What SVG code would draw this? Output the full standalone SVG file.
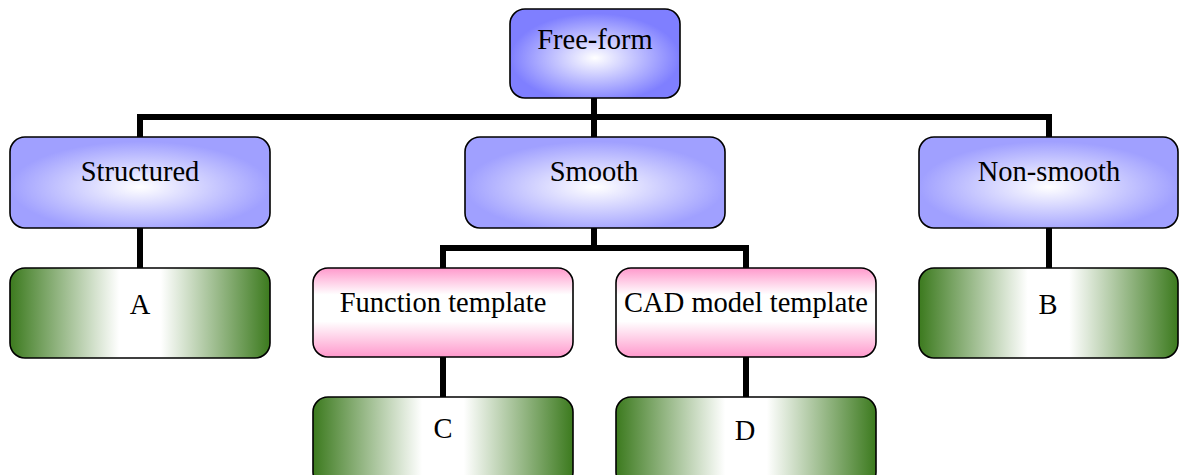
<svg xmlns="http://www.w3.org/2000/svg" width="1179" height="475" viewBox="0 0 1179 475">
<defs>
<radialGradient id="gBlue0" cx="0.5" cy="0.55" r="0.5">
<stop offset="0" stop-color="#ffffff"/>
<stop offset="1" stop-color="#7f7fff"/>
</radialGradient>
<radialGradient id="gBlue" cx="0.5" cy="0.55" r="0.5">
<stop offset="0" stop-color="#ffffff"/>
<stop offset="1" stop-color="#a0a0ff"/>
</radialGradient>
<linearGradient id="gPink" x1="0" y1="0" x2="0" y2="1">
<stop offset="0" stop-color="#ff99cc"/>
<stop offset="0.3" stop-color="#ffffff"/>
<stop offset="0.6" stop-color="#ffffff"/>
<stop offset="1" stop-color="#ff99cc"/>
</linearGradient>
<linearGradient id="gGreen" x1="0" y1="0" x2="1" y2="0">
<stop offset="0" stop-color="#3c7a1e"/>
<stop offset="0.42" stop-color="#ffffff"/>
<stop offset="0.58" stop-color="#ffffff"/>
<stop offset="1" stop-color="#3c7a1e"/>
</linearGradient>
</defs>
<style>
.box{stroke:#000;stroke-width:1.6}
.blue0{fill:url(#gBlue0)}
.blue{fill:url(#gBlue)}
.pink{fill:url(#gPink)}
.green{fill:url(#gGreen)}
.lbl{font-family:"Liberation Serif","Times New Roman",serif;font-size:28.5px;fill:#000;text-anchor:middle}
.con{fill:none;stroke:#000;stroke-width:6}
</style>
<g id="connectors">
<path class="con" d="M594 98 V137"/>
<path class="con" d="M140 137 V117 H1049 V137"/>
<path class="con" d="M140 228 V268"/>
<path class="con" d="M1049 228 V268"/>
<path class="con" d="M594 228 V248"/>
<path class="con" d="M443 268 V248 H746 V268"/>
<path class="con" d="M443 357 V397"/>
<path class="con" d="M746 357 V397"/>
</g>
<g id="freeform"><rect class="box blue0" x="510" y="9" width="170" height="89" rx="15"/><text class="lbl" x="595" y="49">Free-form</text></g>
<g id="structured"><rect class="box blue" x="10" y="137" width="260" height="91" rx="15"/><text class="lbl" x="140" y="181">Structured</text></g>
<g id="smooth"><rect class="box blue" x="465" y="137" width="260" height="91" rx="15"/><text class="lbl" x="594" y="181">Smooth</text></g>
<g id="nonsmooth"><rect class="box blue" x="919" y="137" width="259" height="91" rx="15"/><text class="lbl" x="1049" y="181">Non-smooth</text></g>
<g id="A"><rect class="box green" x="10" y="268" width="260" height="90" rx="15"/><text class="lbl" x="140" y="314">A</text></g>
<g id="B"><rect class="box green" x="919" y="268" width="259" height="90" rx="15"/><text class="lbl" x="1048" y="314">B</text></g>
<g id="function"><rect class="box pink" x="313" y="268" width="260" height="89" rx="15"/><text class="lbl" x="443" y="312">Function template</text></g>
<g id="cad"><rect class="box pink" x="616" y="268" width="260" height="89" rx="15"/><text class="lbl" x="746" y="312">CAD model template</text></g>
<g id="C"><rect class="box green" x="313" y="397" width="260" height="90" rx="15"/><text class="lbl" x="443" y="438">C</text></g>
<g id="D"><rect class="box green" x="616" y="397" width="260" height="90" rx="15"/><text class="lbl" x="745" y="440">D</text></g>
</svg>
